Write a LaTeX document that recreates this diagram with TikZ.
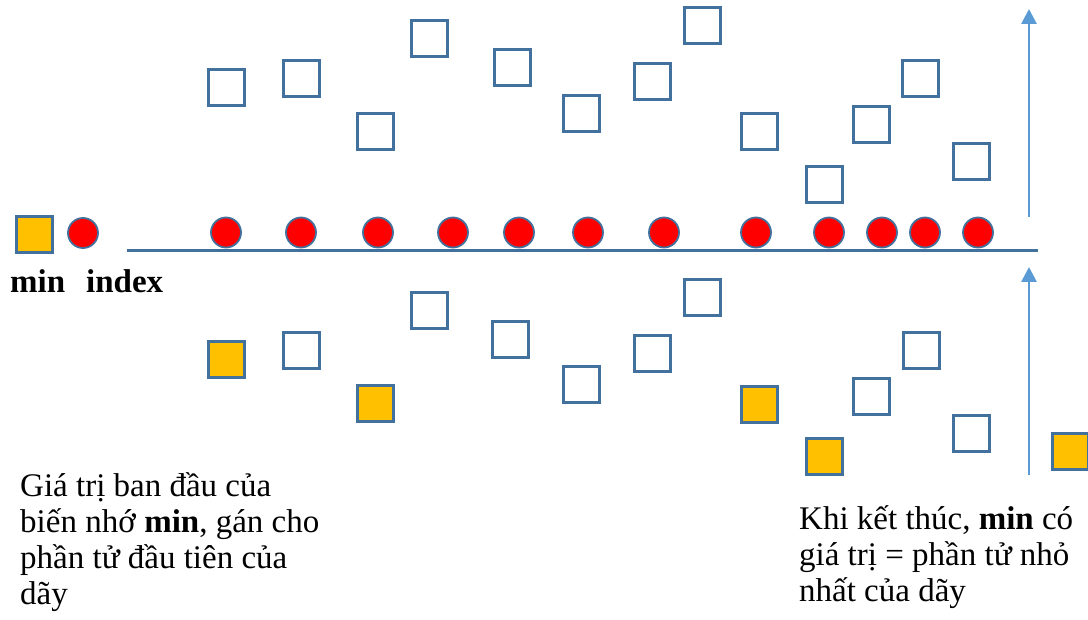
\documentclass[tikz,border=0pt]{standalone}
\usepackage{fontspec}
\setmainfont{Liberation Serif}
\usetikzlibrary{arrows.meta}
\definecolor{edgeblue}{HTML}{41719C}
\definecolor{gold}{HTML}{FFC000}
\definecolor{arrblue}{HTML}{5B9BD5}
\tikzset{
  sq/.style={draw=edgeblue, line width=3pt, minimum size=36pt, inner sep=0pt, fill=white},
  gsq/.style={sq, fill=gold},
  dot/.style={circle, draw=edgeblue, line width=1.8pt, fill=red, minimum size=30pt, inner sep=0pt},
  uparrow/.style={draw=arrblue, line width=2.8pt, -{Triangle[length=15pt,width=15pt]}},
  baseline/.style={draw=edgeblue, line width=3pt},
  txt/.style={inner sep=0pt, align=left, anchor=base west, font=\fontsize{33}{36}\selectfont}
}
\begin{document}
\begin{tikzpicture}[x=1pt,y=-1pt]
\useasboundingbox (0,0) rectangle (1088,620);
% top row squares
\node[sq] (t1) at (226.5,87.5) {};
\node[sq] (t2) at (301.5,78.5) {};
\node[sq] (t3) at (375.5,132) {};
\node[sq] (t4) at (429.5,38.5) {};
\node[sq] (t5) at (512.5,68) {};
\node[sq] (t6) at (581.5,113.5) {};
\node[sq] (t7) at (652.5,81.5) {};
\node[sq] (t8) at (702.5,26) {};
\node[sq] (t9) at (759.5,132) {};
\node[sq] (t10) at (824.5,184.5) {};
\node[sq] (t11) at (871.5,124.5) {};
\node[sq] (t12) at (920.5,78.5) {};
\node[sq] (t13) at (971.5,161.5) {};
% bottom row squares
\node[gsq] (b1) at (226.5,359.5) {};
\node[sq] (b2) at (301.5,350.5) {};
\node[gsq] (b3) at (375.5,404) {};
\node[sq] (b4) at (429.5,310.5) {};
\node[sq] (b5) at (510.5,339.5) {};
\node[sq] (b6) at (581.5,384.5) {};
\node[sq] (b7) at (652.5,353.5) {};
\node[sq] (b8) at (702.5,298) {};
\node[gsq] (b9) at (759.5,404.5) {};
\node[gsq] (b10) at (824,456.5) {};
\node[sq] (b11) at (871.5,396.5) {};
\node[sq] (b12) at (921,350.5) {};
\node[sq] (b13) at (971.5,433.5) {};
\node[gsq] (bend) at (1070.5,451.5) {};
% axis line
\coordinate (l0) at (127,251);
\coordinate (l1) at (1038,251);
\draw[baseline] (l0) -- (l1);
% circles
\foreach \x [count=\i] in {226,301,378,453,519,588,664,756,829,882,925,978}
  \node[dot] (c\i) at (\x,232.5) {};
% min / index
\node[gsq] (minsq) at (34.5,235) {};
\node[dot] (idx) at (83,233) {};
\node[txt] (minlbl) at (10,293) {\textbf{min}};
\node[txt] (idxlbl) at (86,293) {\textbf{index}};
% arrows
\coordinate (a1s) at (1029,217);
\coordinate (a1e) at (1029,9);
\draw[uparrow] (a1s) -- (a1e);
\coordinate (a2s) at (1029,475);
\coordinate (a2e) at (1029,267);
\draw[uparrow] (a2s) -- (a2e);
% texts (base anchor = baseline of last line)
\node[txt] (lefttext) at (20,604) {Giá trị ban đầu của\\biến nhớ \textbf{min}, gán cho\\phần tử đầu tiên của\\dãy};
\node[txt] (righttext) at (799,601) {Khi kết thúc, \textbf{min} có\\giá trị = phần tử nhỏ\\nhất của dãy};
\end{tikzpicture}
\end{document}
